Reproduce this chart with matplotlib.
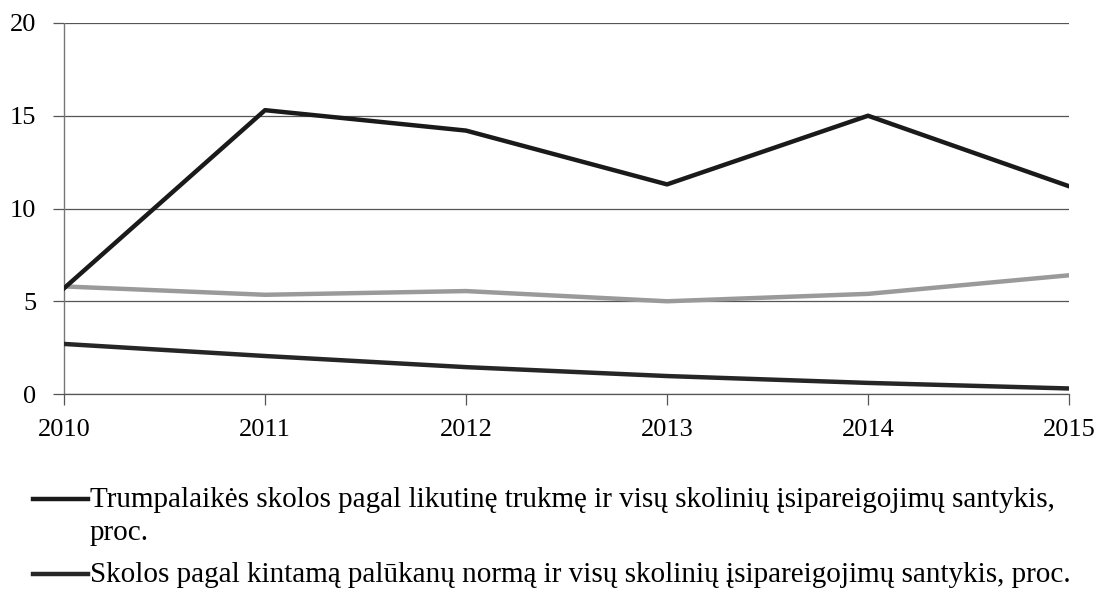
import numpy as np
import matplotlib.pyplot as plt
from matplotlib.lines import Line2D

# Duomenys (nuskaityti nuo grafiko)
metai = [2010, 2011, 2012, 2013, 2014, 2015]
trumpalaikes = [5.7, 15.3, 14.2, 11.3, 15.0, 11.2]
kintama_norma = [2.7, 2.05, 1.45, 0.97, 0.6, 0.3]
pilka_eilute = [5.8, 5.35, 5.55, 5.0, 5.4, 6.4]

etiketes = [
    ["Trumpalaikės skolos pagal likutinę trukmę ir visų skolinių įsipareigojimų santykis,", "proc."],
    ["Skolos pagal kintamą palūkanų normą ir visų skolinių įsipareigojimų santykis, proc."],
]

plt.rcParams['font.family'] = ['Liberation Serif', 'DejaVu Serif']
plt.rcParams['font.size'] = 19

W, H = 1098, 589
fig = plt.figure(figsize=(W / 100, H / 100), dpi=100)
ax = fig.add_axes([0.0583, 0.331, 0.9153, 0.630])

#Linijos
l1, = ax.plot(metai, trumpalaikes, color='#1a1a1a', lw=3.2, zorder=4)
l2, = ax.plot(metai, pilka_eilute, color='#9a9a9a', lw=3.2, zorder=3)
l3, = ax.plot(metai, kintama_norma, color='#262626', lw=3.2, zorder=3)

ax.set_xlim(2010, 2015)
ax.set_ylim(0, 20)
ax.set_xticks(metai)
ax.set_yticks([0, 5, 10, 15, 20])
ax.yaxis.grid(True, color='#555555', lw=0.9)
ax.set_axisbelow(True)

#Asys
for s in ['top', 'right']:
    ax.spines[s].set_visible(False)
ax.spines['left'].set_color('#777777')
ax.spines['left'].set_linestyle((0, (1, 1)))
ax.spines['left'].set_linewidth(1)
ax.spines['bottom'].set_color('#555555')
ax.spines['bottom'].set_linewidth(0.9)
ax.tick_params(axis='x', direction='out', length=8, width=0.9, color='#555555', pad=10, labelsize=19)
ax.tick_params(axis='y', direction='out', length=8, width=0.9, color='#555555', pad=12, labelsize=19)

#Legenda (ranka, kad linija butu ties pirma eilute)
eil_y = [[500, 533], [575]]
for linija, tekstai, ys in zip([l1, l3], etiketes, eil_y):
    fig.add_artist(Line2D([33 / W, 88 / W], [1 - (ys[0] - 1) / H] * 2,
                          transform=fig.transFigure, color=linija.get_color(), lw=3.2))
    for t, y in zip(tekstai, ys):
        fig.text(90 / W, 1 - y / H, t, ha='left', va='center', fontsize=21)

fig.savefig('out.png', dpi=100)
